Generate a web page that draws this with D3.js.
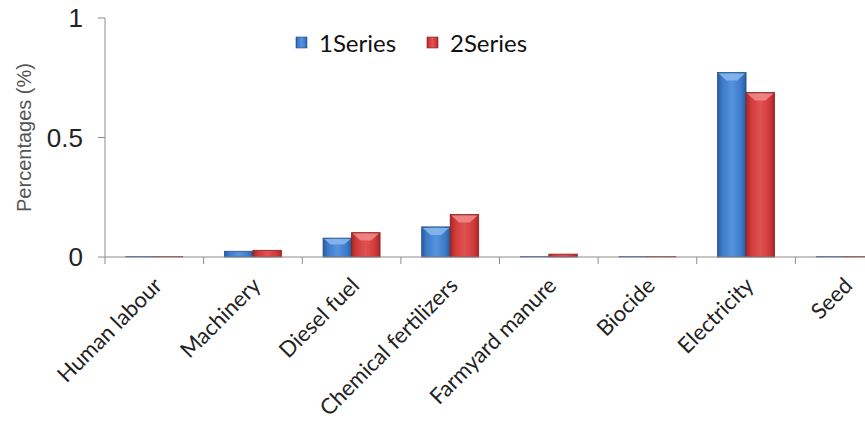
<!DOCTYPE html>
<html>
<head>
<meta charset="utf-8">
<script src="https://cdn.jsdelivr.net/npm/d3@7/dist/d3.min.js"></script>
<style>
  html, body { margin: 0; padding: 0; background: #ffffff; }
  svg { display: block; }
</style>
</head>
<body>
<svg id="chart" width="865" height="422"></svg>
<script>
const categories = ["Human labour", "Machinery", "Diesel fuel", "Chemical fertilizers", "Farmyard manure", "Biocide", "Electricity", "Seed"];
const seriesNames = ["1Series", "2Series"];
const series1 = [0.002, 0.024, 0.079, 0.126, 0.002, 0.002, 0.772, 0.002];
const series2 = [0.002, 0.028, 0.102, 0.178, 0.012, 0.002, 0.688, 0.002];
const yTicks = [0, 0.5, 1];
const yTickLabels = ["0", "0.5", "1"];
const yTitle = "Percentages (%)";

const svg = d3.select("#chart");
const defs = svg.append("defs");

const palette = {
  "1Series": { dark: "#2a5c9e", mid: "#3d7ccc", light: "#5693dc", top: "#8cb8ee", edge: "#24508a" },
  "2Series": { dark: "#a42828", mid: "#d23a3a", light: "#e05252", top: "#ef8c8c", edge: "#8c2020" }
};
seriesNames.forEach((s, i) => {
  const g = defs.append("linearGradient").attr("id", "grad" + i).attr("x1", "0").attr("x2", "1").attr("y1", "0").attr("y2", "0");
  g.append("stop").attr("offset", "0%").attr("stop-color", palette[s].dark);
  g.append("stop").attr("offset", "18%").attr("stop-color", palette[s].mid);
  g.append("stop").attr("offset", "50%").attr("stop-color", palette[s].light);
  g.append("stop").attr("offset", "82%").attr("stop-color", palette[s].mid);
  g.append("stop").attr("offset", "100%").attr("stop-color", palette[s].dark);
});

const x = d3.scaleBand().domain(categories).range([105, 894]).paddingInner(0).paddingOuter(0);
const x1 = d3.scaleBand().domain(seriesNames).range([0, x.bandwidth()]).paddingInner(0).paddingOuter(0.73);
const y = d3.scaleLinear().domain([0, 1]).range([257, 18]);

const data = categories.map((c, i) => ({ cat: c, vals: [series1[i], series2[i]] }));

// Bars
const groups = svg.append("g").selectAll("g").data(data).join("g")
  .attr("transform", d => `translate(${x(d.cat)},0)`);

groups.each(function(d) {
  const g = d3.select(this);
  d.vals.forEach((v, i) => {
    const s = seriesNames[i];
    const bx = x1(s), bw = x1.bandwidth();
    const by = y(v), bh = y(0) - y(v);
    g.append("rect")
      .attr("x", bx).attr("y", by).attr("width", bw).attr("height", bh)
      .attr("fill", `url(#grad${i})`)
      .attr("stroke", palette[s].edge).attr("stroke-width", bh > 2 ? 0.8 : 0.5);
    if (bh > 12) {
      const bev = Math.min(8, bh / 3);
      g.append("path")
        .attr("d", `M${bx + 1},${by + 1} L${bx + bw - 1},${by + 1} L${bx + bw - 1 - bev},${by + bev} L${bx + 1 + bev},${by + bev} Z`)
        .attr("fill", palette[s].top).attr("opacity", 0.85);
    }
  });
});

// Y axis
const yAxis = svg.append("g");
yAxis.append("line").attr("x1", 105).attr("x2", 105).attr("y1", y(1)).attr("y2", y(0))
  .attr("stroke", "#8c8c8c").attr("stroke-width", 1);
yTicks.forEach((t, i) => {
  yAxis.append("line").attr("x1", 98).attr("x2", 105).attr("y1", y(t)).attr("y2", y(t))
    .attr("stroke", "#8c8c8c").attr("stroke-width", 1);
  yAxis.append("text").attr("x", 83).attr("y", y(t)).attr("dy", "0.36em")
    .attr("text-anchor", "end")
    .attr("font-family", "Liberation Sans, Arial, sans-serif").attr("font-size", 26)
    .attr("fill", "#222").text(yTickLabels[i]);
});
svg.append("text")
  .attr("transform", `translate(31,${(y(1) + y(0)) / 2}) rotate(-90)`)
  .attr("text-anchor", "middle")
  .attr("font-family", "Liberation Sans, Arial, sans-serif").attr("font-size", 20)
  .attr("fill", "#555").text(yTitle);

// X axis
const xAxis = svg.append("g");
xAxis.append("line").attr("x1", 105).attr("x2", 865).attr("y1", y(0)).attr("y2", y(0))
  .attr("stroke", "#8c8c8c").attr("stroke-width", 1);
categories.forEach(c => {
  xAxis.append("line").attr("x1", x(c)).attr("x2", x(c)).attr("y1", y(0)).attr("y2", y(0) + 7)
    .attr("stroke", "#8c8c8c").attr("stroke-width", 1);
  const cx = x(c) + x.bandwidth() / 2;
  xAxis.append("text")
    .attr("transform", `translate(${cx + 9},${y(0) + 30}) rotate(-45)`)
    .attr("text-anchor", "end")
    .attr("font-family", "Lato, 'Open Sans', sans-serif").attr("font-size", 22)
    .attr("fill", "#222").text(c);
});

// Legend
const legendX = [296, 427];
seriesNames.forEach((s, i) => {
  const lg = svg.append("g").attr("transform", `translate(${legendX[i]},37)`);
  lg.append("rect").attr("width", 11).attr("height", 11)
    .attr("fill", `url(#grad${i})`).attr("stroke", palette[s].edge).attr("stroke-width", 0.6);
  lg.append("text").attr("x", 23).attr("y", 6).attr("dy", "0.36em")
    .attr("font-family", "Lato, 'Open Sans', sans-serif").attr("font-size", 24)
    .attr("fill", "#111").text(s);
});
</script>
</body>
</html>
